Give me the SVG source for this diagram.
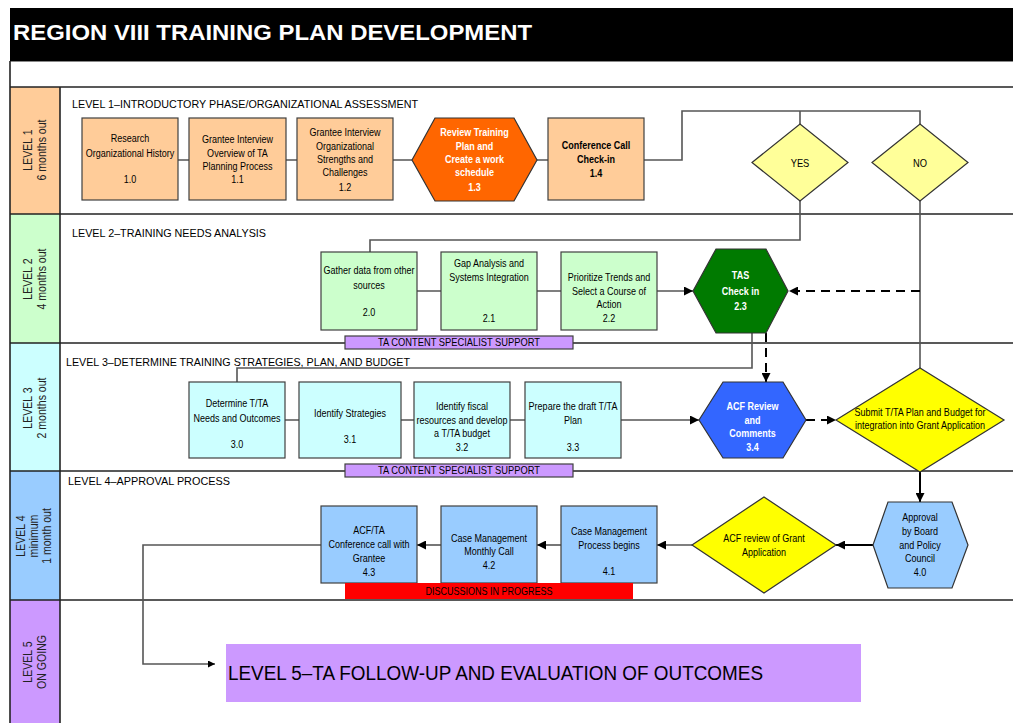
<svg xmlns="http://www.w3.org/2000/svg" width="1013" height="723" viewBox="0 0 1013 723">
<defs>
<style>
.t{font-family:"Liberation Sans",Arial,sans-serif;font-size:11px;fill:#000;text-anchor:middle}
.b{font-weight:bold}
.w{fill:#fff}
.h{font-family:"Liberation Sans",Arial,sans-serif;font-size:11px;fill:#000}
.lane{font-family:"Liberation Sans",Arial,sans-serif;font-size:12px;fill:#222;text-anchor:middle}
.box{stroke:#404040;stroke-width:1.2}
.l1{fill:#FFCC99}.l2{fill:#CCFFCC}.l3{fill:#CCFFFF}.l4{fill:#99CCFF}.l5{fill:#CC99FF}
.con{fill:none;stroke:#555;stroke-width:1.6}
.dash{fill:none;stroke:#000;stroke-width:2;stroke-dasharray:9 6}
.sep{stroke:#222;stroke-width:1.6}
</style>
<marker id="ah" viewBox="0 0 10 10" refX="10" refY="5" markerWidth="11" markerHeight="9" markerUnits="userSpaceOnUse" orient="auto"><path d="M0,0 L10,5 L0,10 z" fill="#000"/></marker>
<marker id="ahs" viewBox="0 0 10 10" refX="10" refY="5" markerWidth="9" markerHeight="7" markerUnits="userSpaceOnUse" orient="auto"><path d="M0,0 L10,5 L0,10 z" fill="#000"/></marker>
</defs>
<rect x="0" y="0" width="1013" height="723" fill="#fff"/>
<g id="header">
<rect x="10" y="8" width="1003" height="53" fill="#000"/>
<text x="13" y="40" font-family="'Liberation Sans',Arial,sans-serif" font-size="22" font-weight="bold" fill="#fff" textLength="519" lengthAdjust="spacingAndGlyphs">REGION VIII TRAINING PLAN DEVELOPMENT</text>
<line x1="10" y1="61.5" x2="1013" y2="61.5" stroke="#888" stroke-width="1"/>
</g>
<g id="lanes">
<rect x="10" y="87" width="50" height="127" class="l1"/>
<rect x="10" y="214" width="50" height="129" class="l2"/>
<rect x="10" y="343" width="50" height="128" class="l3"/>
<rect x="10" y="471" width="50" height="129" class="l4"/>
<rect x="10" y="600" width="50" height="123" class="l5"/>
<line x1="10" y1="61" x2="10" y2="723" class="sep"/>
<line x1="60" y1="87" x2="60" y2="723" class="sep"/>
<line x1="10" y1="87" x2="1013" y2="87" class="sep"/>
<line x1="10" y1="214" x2="1013" y2="214" class="sep"/>
<line x1="10" y1="343" x2="1013" y2="343" class="sep"/>
<line x1="10" y1="471" x2="1013" y2="471" class="sep"/>
<line x1="10" y1="600" x2="1013" y2="600" class="sep"/>
<text class="lane" transform="translate(32 150) rotate(-90) scale(0.88 1)">LEVEL 1</text>
<text class="lane" transform="translate(46 150) rotate(-90) scale(0.88 1)">6 months out</text>
<text class="lane" transform="translate(32 279) rotate(-90) scale(0.88 1)">LEVEL 2</text>
<text class="lane" transform="translate(46 279) rotate(-90) scale(0.88 1)">4 months out</text>
<text class="lane" transform="translate(32 408) rotate(-90) scale(0.88 1)">LEVEL 3</text>
<text class="lane" transform="translate(46 408) rotate(-90) scale(0.88 1)">2 months out</text>
<text class="lane" transform="translate(25 536) rotate(-90) scale(0.88 1)">LEVEL 4</text>
<text class="lane" transform="translate(38 536) rotate(-90) scale(0.88 1)">minimum</text>
<text class="lane" transform="translate(51 536) rotate(-90) scale(0.88 1)">1 month out</text>
<text class="lane" transform="translate(32 662) rotate(-90) scale(0.88 1)">LEVEL 5</text>
<text class="lane" transform="translate(46 662) rotate(-90) scale(0.88 1)">ON GOING</text>
<text class="h" x="72" y="108" textLength="346" lengthAdjust="spacingAndGlyphs">LEVEL 1–INTRODUCTORY PHASE/ORGANIZATIONAL ASSESSMENT</text>
<text class="h" x="72" y="237" textLength="194" lengthAdjust="spacingAndGlyphs">LEVEL 2–TRAINING NEEDS ANALYSIS</text>
<text class="h" x="66" y="366" textLength="344" lengthAdjust="spacingAndGlyphs">LEVEL 3–DETERMINE TRAINING STRATEGIES, PLAN, AND BUDGET</text>
<text class="h" x="68" y="485" textLength="162" lengthAdjust="spacingAndGlyphs">LEVEL 4–APPROVAL PROCESS</text>
</g>
<g id="connectors">
<path class="con" d="M178,160 H189 M286,160 H297 M393,160 H412 M537,160 H548"/>
<path class="con" d="M644,160 H682 V111 H920 V124 M800,111 V124"/>
<path class="con" d="M800,201 V240 H370 V252"/>
<path class="con" d="M920,201 V368"/>
<path class="con" d="M417,291 H441 M537,291 H561"/>
<path class="con" d="M657,291 H693" marker-end="url(#ah)"/>
<path class="dash" d="M920,291 H789" marker-end="url(#ah)"/>
<path class="con" d="M752,333 V368 H237 V382"/>
<path class="dash" d="M766,333 V382" marker-end="url(#ah)"/>
<path class="con" d="M285,420 H299 M401,420 H414 M510,420 H525"/>
<path class="con" d="M621,420 H699" marker-end="url(#ah)"/>
<path class="dash" d="M806,420 H836" marker-end="url(#ah)"/>
<path d="M920,472 V502" fill="none" stroke="#000" stroke-width="2" marker-end="url(#ah)"/>
<path d="M873,545 H836" fill="none" stroke="#000" stroke-width="2" marker-end="url(#ah)"/>
<path class="con" d="M692,545 H657" marker-end="url(#ah)"/>
<path class="con" d="M561,545 H537" marker-end="url(#ah)"/>
<path class="con" d="M441,545 H417" marker-end="url(#ah)"/>
<path class="con" d="M321,545 H143 V664 H215" marker-end="url(#ahs)"/>
</g>
<g id="n10"><rect x="82" y="118" width="96" height="82" class="box l1"/>
<g transform="translate(130 0) scale(0.82 1)"><text class="t" y="142">Research</text><text class="t" y="157">Organizational History</text><text class="t" y="183">1.0</text></g></g>
<g id="n11"><rect x="189" y="118" width="97" height="82" class="box l1"/>
<g transform="translate(237.5 0) scale(0.82 1)"><text class="t" y="143">Grantee Interview</text><text class="t" y="157">Overview of TA</text><text class="t" y="170">Planning Process</text><text class="t" y="183">1.1</text></g></g>
<g id="n12"><rect x="297" y="118" width="96" height="82" class="box l1"/>
<g transform="translate(345 0) scale(0.82 1)"><text class="t" y="136">Grantee Interview</text><text class="t" y="150">Organizational</text><text class="t" y="163">Strengths and</text><text class="t" y="176">Challenges</text><text class="t" y="191">1.2</text></g></g>
<g id="n13"><polygon points="412,160 435,118 514,118 537,160 514,201 435,201" fill="#FF6600" stroke="#333" stroke-width="1.2"/>
<g transform="translate(474.5 0) scale(0.82 1)"><text class="t b w" y="136">Review Training</text><text class="t b w" y="150">Plan and</text><text class="t b w" y="163">Create a work</text><text class="t b w" y="176">schedule</text><text class="t b w" y="191">1.3</text></g></g>
<g id="n14"><rect x="548" y="118" width="96" height="82" class="box l1"/>
<g transform="translate(596 0) scale(0.82 1)"><text class="t b" y="149">Conference Call</text><text class="t b" y="163">Check-in</text><text class="t b" y="177">1.4</text></g></g>
<g id="yes"><polygon points="752,162.5 800,124 848,162.5 800,201" fill="#FFFF99" stroke="#333" stroke-width="1.2"/>
<g transform="translate(800 0) scale(0.85 1)"><text class="t" y="167" font-size="12">YES</text></g></g>
<g id="no"><polygon points="872,162.5 920,124 968,162.5 920,201" fill="#FFFF99" stroke="#333" stroke-width="1.2"/>
<g transform="translate(920 0) scale(0.85 1)"><text class="t" y="167" font-size="12">NO</text></g></g>
<g id="n20"><rect x="321" y="252" width="96" height="78" class="box l2"/>
<g transform="translate(369 0) scale(0.82 1)"><text class="t" y="274">Gather data from other</text><text class="t" y="289">sources</text><text class="t" y="316">2.0</text></g></g>
<g id="n21"><rect x="441" y="252" width="96" height="78" class="box l2"/>
<g transform="translate(489 0) scale(0.82 1)"><text class="t" y="267">Gap Analysis and</text><text class="t" y="281">Systems Integration</text><text class="t" y="322">2.1</text></g></g>
<g id="n22"><rect x="561" y="252" width="96" height="78" class="box l2"/>
<g transform="translate(609 0) scale(0.82 1)"><text class="t" y="281">Prioritize Trends and</text><text class="t" y="295">Select a Course of</text><text class="t" y="308">Action</text><text class="t" y="322">2.2</text></g></g>
<g id="n23"><polygon points="693,291 716,249 766,249 788,291 766,333 716,333" fill="#007A00" stroke="#333" stroke-width="1.2"/>
<g transform="translate(740.5 0) scale(0.82 1)"><text class="t b w" y="279" font-size="12.5">TAS</text><text class="t b w" y="295" font-size="12.5">Check in</text><text class="t b w" y="310" font-size="12.5">2.3</text></g></g>
<g id="support1"><rect x="345" y="336" width="228" height="13" class="box l5"/>
<g transform="translate(459 0) scale(0.85 1)"><text class="t" y="346" font-size="9.5">TA CONTENT SPECIALIST SUPPORT</text></g></g>
<g id="n30"><rect x="189" y="382" width="96" height="76" class="box l3"/>
<g transform="translate(237 0) scale(0.82 1)"><text class="t" y="407">Determine T/TA</text><text class="t" y="422">Needs and Outcomes</text><text class="t" y="448">3.0</text></g></g>
<g id="n31"><rect x="299" y="382" width="102" height="76" class="box l3"/>
<g transform="translate(350 0) scale(0.82 1)"><text class="t" y="417">Identify Strategies</text><text class="t" y="443">3.1</text></g></g>
<g id="n32"><rect x="414" y="382" width="96" height="76" class="box l3"/>
<g transform="translate(462 0) scale(0.82 1)"><text class="t" y="410">Identify fiscal</text><text class="t" y="424">resources and develop</text><text class="t" y="437">a T/TA budget</text><text class="t" y="451">3.2</text></g></g>
<g id="n33"><rect x="525" y="382" width="96" height="76" class="box l3"/>
<g transform="translate(573 0) scale(0.82 1)"><text class="t" y="410">Prepare the draft T/TA</text><text class="t" y="424">Plan</text><text class="t" y="451">3.3</text></g></g>
<g id="n34"><polygon points="699,420 723,382 783,382 806,420 783,458 723,458" fill="#3366FF" stroke="#333" stroke-width="1.2"/>
<g transform="translate(752.5 0) scale(0.82 1)"><text class="t b w" y="410" font-size="12">ACF Review</text><text class="t b w" y="424" font-size="12">and</text><text class="t b w" y="437" font-size="12">Comments</text><text class="t b w" y="451" font-size="12">3.4</text></g></g>
<g id="submit"><polygon points="836,420 920,368 1004,420 920,472" fill="#FFFF00" stroke="#333" stroke-width="1.2"/>
<g transform="translate(920 0) scale(0.82 1)"><text class="t" y="416">Submit T/TA Plan and Budget for</text><text class="t" y="429">integration into Grant Application</text></g></g>
<g id="support2"><rect x="345" y="464" width="228" height="13" class="box l5"/>
<g transform="translate(459 0) scale(0.85 1)"><text class="t" y="474" font-size="9.5">TA CONTENT SPECIALIST SUPPORT</text></g></g>
<g id="n40"><polygon points="873,545 888,502 952,502 968,545 952,588 888,588" fill="#99CCFF" stroke="#333" stroke-width="1.2"/>
<g transform="translate(920 0) scale(0.82 1)"><text class="t" y="521">Approval</text><text class="t" y="535">by Board</text><text class="t" y="549">and Policy</text><text class="t" y="562">Council</text><text class="t" y="576">4.0</text></g></g>
<g id="acfreview"><polygon points="692,545 764,497 836,545 764,593" fill="#FFFF00" stroke="#333" stroke-width="1.2"/>
<g transform="translate(764 0) scale(0.82 1)"><text class="t" y="542">ACF review of Grant</text><text class="t" y="556">Application</text></g></g>
<g id="n41"><rect x="561" y="506" width="96" height="77" class="box l4"/>
<g transform="translate(609 0) scale(0.82 1)"><text class="t" y="535">Case Management</text><text class="t" y="549">Process begins</text><text class="t" y="575">4.1</text></g></g>
<g id="n42"><rect x="441" y="506" width="96" height="77" class="box l4"/>
<g transform="translate(489 0) scale(0.82 1)"><text class="t" y="542">Case Management</text><text class="t" y="555">Monthly Call</text><text class="t" y="569">4.2</text></g></g>
<g id="n43"><rect x="321" y="506" width="96" height="77" class="box l4"/>
<g transform="translate(369 0) scale(0.82 1)"><text class="t" y="534">ACF/TA</text><text class="t" y="548">Conference call with</text><text class="t" y="562">Grantee</text><text class="t" y="576">4.3</text></g></g>
<g id="discussions"><rect x="345" y="583" width="288" height="16" fill="#FF0000"/>
<g transform="translate(489 0) scale(0.82 1)"><text class="t" y="595" font-size="12">DISCUSSIONS IN PROGRESS</text></g></g>
<g id="level5"><rect x="226" y="644" width="635" height="58" class="l5"/>
<text x="228" y="680" font-family="'Liberation Sans',Arial,sans-serif" font-size="20" fill="#000" textLength="535" lengthAdjust="spacingAndGlyphs">LEVEL 5–TA FOLLOW-UP AND EVALUATION OF OUTCOMES</text></g>
</svg>
